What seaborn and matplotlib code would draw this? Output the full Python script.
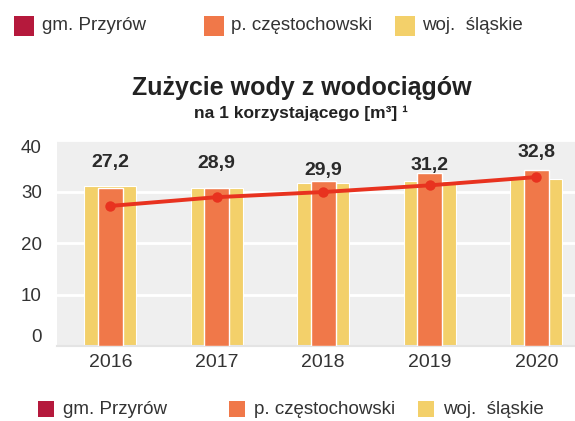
import matplotlib
matplotlib.use("Agg")
import matplotlib.pyplot as plt
from matplotlib.patches import Rectangle
import numpy as np
import pandas as pd
import seaborn as sns

# Water consumption per user of the water supply network [m³]
years = ["2016", "2017", "2018", "2019", "2020"]
gmina_przyrow = [27.2, 28.9, 29.9, 31.2, 32.8]
powiat_czestochowski = [30.6, 30.7, 32.1, 33.5, 34.1]
woj_slaskie = [31.0, 30.7, 31.6, 32.1, 32.4]

series_names = ["gm. Przyrów", "p. częstochowski", "woj.  śląskie"]
y_ticks = [0, 10, 20, 30, 40]

# vertical offsets (pixels) of the value labels above the line markers
label_offsets_px = [43, 34, 22, 20, 25]

C_GMINA = "#b5193c"
C_POWIAT = "#f07849"
C_WOJ = "#f3d06a"
C_LINE = "#e8321f"
C_TEXT = "#333333"
C_BG = "#efefef"

df = pd.DataFrame({
    "rok": years,
    "gmina": gmina_przyrow,
    "powiat": powiat_czestochowski,
    "woj": woj_slaskie,
})

sns.set_style("white")
plt.rcParams["font.family"] = ["Liberation Sans", "DejaVu Sans"]

W, H = 575, 421
fig = plt.figure(figsize=(W / 100, H / 100), dpi=100)
ax_left, ax_right, ax_top, ax_bottom = 57, 575, 140, 346
ax = fig.add_axes([ax_left / W, (H - ax_bottom) / H,
                   (ax_right - ax_left) / W, (ax_bottom - ax_top) / H])
ax.set_facecolor(C_BG)

# wide regional bars behind, narrower county bars in front
sns.barplot(data=df, x="rok", y="woj", color=C_WOJ, width=0.49,
            saturation=1, edgecolor="white", linewidth=0.8, ax=ax, zorder=2)
sns.barplot(data=df, x="rok", y="powiat", color=C_POWIAT, width=0.235,
            saturation=1, edgecolor="white", linewidth=1.0, ax=ax, zorder=3)

# commune series as a line with markers
xpos = np.arange(len(years))
sns.lineplot(x=xpos, y=df["gmina"], color=C_LINE, linewidth=2.8,
             marker="o", markersize=7.5, markeredgewidth=0, ax=ax, zorder=4)

for i, v in enumerate(gmina_przyrow):
    ax.annotate(f"{v:.1f}".replace(".", ","), (xpos[i], v),
                xytext=(0, label_offsets_px[i] * 0.72), textcoords="offset points",
                ha="center", va="center", fontsize=14, fontweight="bold",
                color="#2a2a2a", zorder=5)

ax.set_ylim(0, 40)
ax.set_xlim(-0.5, (ax_right - ax_left) / 106.5 - 0.5)
ax.set_yticks(y_ticks)
ax.set_yticklabels([str(t) for t in y_ticks])
for lbl, t in zip(ax.get_yticklabels(), y_ticks):
    if t == 40:
        lbl.set_va("top")
    elif t == 0:
        lbl.set_va("bottom")
ax.tick_params(axis="y", length=0, pad=11, labelsize=13.5, labelcolor=C_TEXT)
ax.tick_params(axis="x", length=0, pad=6, labelsize=14, labelcolor=C_TEXT)
ax.set_xlabel("")
ax.set_ylabel("")
ax.yaxis.grid(True, color="white", linewidth=2.0, zorder=1)
ax.set_axisbelow(True)
for s in ["top", "right", "left"]:
    ax.spines[s].set_visible(False)
ax.spines["bottom"].set_color("#e4e4e4")
ax.spines["bottom"].set_linewidth(1.5)

# titles
fig.text(302 / W, 1 - 88 / H, "Zużycie wody z wodociągów", ha="center",
         va="center", fontsize=18, fontweight="bold", color="#222222")
fig.text(301 / W, 1 - 113 / H, "na 1 korzystającego [m³] ¹", ha="center",
         va="center", fontsize=12.5, fontweight="bold", color="#222222")


def draw_legend(y_center, square, xs_square, xs_text):
    colors = [C_GMINA, C_POWIAT, C_WOJ]
    for name, col, xs, xt in zip(series_names, colors, xs_square, xs_text):
        fig.patches.append(Rectangle((xs / W, 1 - (y_center + square / 2) / H),
                                     square / W, square / H, facecolor=col,
                                     edgecolor="none", transform=fig.transFigure,
                                     figure=fig))
        fig.text(xt / W, 1 - y_center / H, name, ha="left", va="center",
                 fontsize=13.5, color=C_TEXT)


draw_legend(26, 20, [14, 204, 395], [42, 231, 422])
draw_legend(409, 16, [38, 229, 418], [63, 254, 443])

fig.savefig("out.png", dpi=100, facecolor="white")
